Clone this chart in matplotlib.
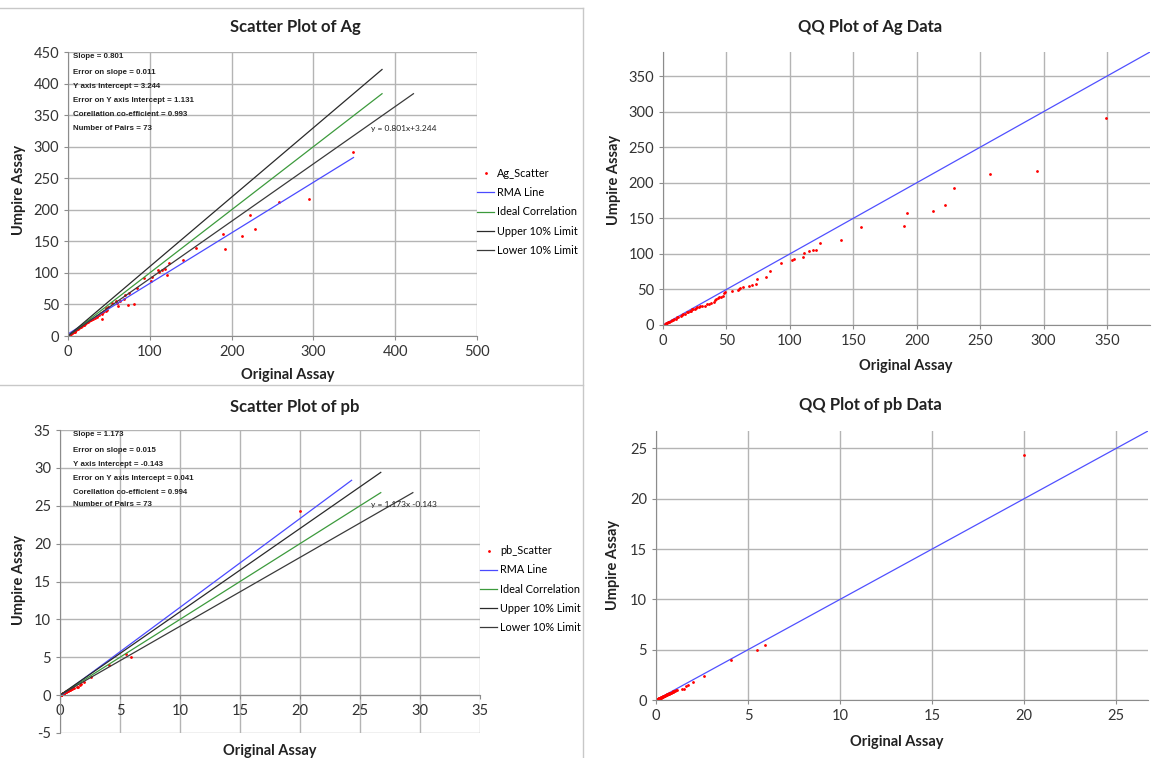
import numpy as np
import matplotlib
matplotlib.use("Agg")
import matplotlib.pyplot as plt
from matplotlib.lines import Line2D

plt.rcParams["font.family"] = ["Lato", "DejaVu Sans"]
plt.rcParams["axes.unicode_minus"] = False

# Ag assays (original vs umpire), 73 pairs
ag_original = [349, 295, 258, 229, 222, 213, 192, 190, 156, 140, 124, 121, 118,
               115, 111, 110, 103, 102, 93, 84, 81, 74, 73, 70, 68, 63, 61, 60,
               59, 54, 49, 48, 47, 46, 44, 43, 42, 41, 40, 38, 36, 35, 33, 31,
               29, 28, 27, 26, 25, 24, 23, 22, 21, 20, 19, 17, 16, 15, 14, 12,
               11, 10, 9, 8, 7, 6, 5, 4.5, 4, 3, 2.5, 2, 1.5]
ag_umpire = [291, 217, 212, 169, 192, 158, 138, 161, 139, 120, 115, 96, 106,
             104, 101, 105, 93, 87, 92, 76, 50, 68, 49, 65, 58, 55, 48, 53,
             56, 52, 46, 41, 45, 39, 40, 38, 27, 35, 37, 33, 30, 31, 29, 27,
             27, 25, 26, 23, 24, 22, 22, 20, 19, 18, 18, 16, 15, 14, 13, 11,
             11, 9, 8.5, 7, 6.5, 6, 4.5, 4, 3.8, 2.8, 2.2, 1.9, 1.3]

# pb assays, 73 pairs
pb_original = [20, 5.9, 5.5, 4.1, 2.6, 2.0, 1.75, 1.65, 1.5, 1.4, 1.15,
               1.1, 1.05, 1.0, 0.95, 0.92, 0.9, 0.85, 0.82, 0.8, 0.78,
               0.75, 0.72, 0.7, 0.68, 0.65, 0.62, 0.6, 0.58, 0.55, 0.52,
               0.5, 0.48, 0.46, 0.44, 0.42, 0.4, 0.38, 0.36, 0.35, 0.33,
               0.32, 0.3, 0.29, 0.28, 0.26, 0.25, 0.24, 0.22, 0.21, 0.2,
               0.19, 0.18, 0.17, 0.16, 0.15, 0.14, 0.13, 0.12, 0.11, 0.1,
               0.1, 0.09, 0.08, 0.08, 0.07, 0.06, 0.06, 0.05, 0.05, 0.04,
               0.04, 0.03]
pb_umpire = [24.3, 5.0, 5.45, 3.97, 2.35, 1.75, 1.5, 1.4, 1.13, 1.06, 0.96,
             0.92, 0.95, 0.85, 0.88, 0.80, 0.78, 0.76, 0.72, 0.74, 0.70,
             0.68, 0.64, 0.66, 0.60, 0.61, 0.56, 0.55, 0.52, 0.50, 0.48,
             0.46, 0.44, 0.41, 0.42, 0.38, 0.37, 0.35, 0.33, 0.32, 0.31,
             0.29, 0.28, 0.26, 0.27, 0.24, 0.23, 0.22, 0.21, 0.19, 0.19,
             0.18, 0.16, 0.16, 0.15, 0.14, 0.13, 0.12, 0.11, 0.10, 0.09,
             0.10, 0.08, 0.08, 0.07, 0.07, 0.06, 0.05, 0.05, 0.04, 0.04,
             0.03, 0.03]

ag_stats = dict(slope=0.801, slope_err=0.011, icpt=3.244, icpt_err=1.131,
                corr=0.993, n=73)
pb_stats = dict(slope=1.173, slope_err=0.015, icpt=-0.143, icpt_err=0.041,
                corr=0.994, n=73)

W, H = 1153, 758
GRID = "#b4b4b4"
AXIS = "#8c8c8c"


def fx(px):
    return px / W


def fy(py):
    return 1 - py / H


def box(l, t, r, b):
    return [fx(l), fy(b), fx(r) - fx(l), fy(t) - fy(b)]


def style(ax):
    ax.grid(True, color=GRID, lw=1.0)
    ax.set_axisbelow(True)
    for s in ["top", "right"]:
        ax.spines[s].set_visible(False)
    for s in ["left", "bottom"]:
        ax.spines[s].set_color(AXIS)
    ax.tick_params(colors=AXIS, labelcolor="#333333", labelsize=10.5, length=3)


def scatter_panel(ax, x, y, st, name):
    x = np.asarray(x); y = np.asarray(y)
    xmax = max(x.max(), y.max())
    xr = np.array([0, xmax])
    t = np.array([0, 1.1 * xmax])
    ax.plot(x, y, ".", color="red", ms=2, label=name + "_Scatter")
    ax.plot(xr, st["slope"] * xr + st["icpt"], color="#4a4aff", lw=0.9,
            label="RMA Line")
    ax.plot(t, t, color="#3c9a3c", lw=0.9, label="Ideal Correlation")
    ax.plot(t, 1.1 * t, color="#2a2a2a", lw=0.9, label="Upper 10% Limit")
    ax.plot(1.1 * t, t, color="#3a3a3a", lw=0.9, label="Lower 10% Limit")


def qq_panel(ax, x, y):
    xs = np.sort(x); ys = np.sort(y)
    lim = 1.1 * max(xs.max(), ys.max())
    ax.plot([0, lim], [0, lim], color="#5050ff", lw=0.9)
    ax.plot(xs, ys, ".", color="red", ms=2)
    ax.set_xlim(0, lim)
    ax.set_ylim(0, lim)


fig = plt.figure(figsize=(W / 100, H / 100), dpi=100)

# panel borders
fig.add_artist(Line2D([fx(583), fx(583)], [0, fy(8)], color="#c8c8c8", lw=1))
fig.add_artist(Line2D([0, fx(583)], [fy(385), fy(385)], color="#c8c8c8", lw=1))
fig.add_artist(Line2D([0, fx(583)], [fy(8), fy(8)], color="#c8c8c8", lw=1))

leg_kw = dict(loc="center left", frameon=False, fontsize=7.8, handlelength=1.6,
              handletextpad=0.25, labelspacing=0.75, borderaxespad=0,
              borderpad=0)

# --- Scatter Ag ---
ax1 = fig.add_axes(box(68, 52, 477, 336))
style(ax1)
scatter_panel(ax1, ag_original, ag_umpire, ag_stats, "Ag")
ax1.set_xlim(0, 500); ax1.set_ylim(0, 450)
ax1.set_xticks(range(0, 501, 100)); ax1.set_yticks(range(0, 451, 50))
ax1.legend(bbox_to_anchor=(1.0, 0.437), **leg_kw)

# --- QQ Ag ---
ax2 = fig.add_axes(box(663, 52, 1150, 325))
style(ax2)
qq_panel(ax2, ag_original, ag_umpire)
ax2.set_xticks(range(0, 351, 50)); ax2.set_yticks(range(0, 351, 50))

# --- Scatter pb ---
ax3 = fig.add_axes(box(60, 430, 480, 733))
style(ax3)
scatter_panel(ax3, pb_original, pb_umpire, pb_stats, "pb")
ax3.set_xlim(0, 35); ax3.set_ylim(-5, 35)
ax3.set_xticks(range(0, 36, 5)); ax3.set_yticks(range(-5, 36, 5))
ax3.spines["bottom"].set_position(("data", 0))
ax3.legend(bbox_to_anchor=(1.0, 0.475), **leg_kw)

# --- QQ pb ---
ax4 = fig.add_axes(box(656, 431, 1148, 700))
style(ax4)
qq_panel(ax4, pb_original, pb_umpire)
ax4.set_xticks(range(0, 26, 5)); ax4.set_yticks(range(0, 26, 5))

# titles and axis labels
tkw = dict(fontsize=12, fontweight="bold", ha="center", va="center", color="#222222")
fig.text(fx(295), fy(27), "Scatter Plot of Ag", **tkw)
fig.text(fx(870), fy(27), "QQ Plot of Ag Data", **tkw)
fig.text(fx(295), fy(407), "Scatter Plot of pb", **tkw)
fig.text(fx(870), fy(405), "QQ Plot of pb Data", **tkw)

lkw = dict(fontsize=10.5, fontweight="bold", ha="center", va="center", color="#222222")
fig.text(fx(19), fy(190), "Umpire Assay", rotation=90, **lkw)
fig.text(fx(288), fy(375), "Original Assay", **lkw)
fig.text(fx(614), fy(180), "Umpire Assay", rotation=90, **lkw)
fig.text(fx(906), fy(366), "Original Assay", **lkw)
fig.text(fx(19), fy(580), "Umpire Assay", rotation=90, **lkw)
fig.text(fx(270), fy(751), "Original Assay", **lkw)
fig.text(fx(613), fy(565), "Umpire Assay", rotation=90, **lkw)
fig.text(fx(897), fy(742), "Original Assay", **lkw)


def stats_text(st, ys):
    lines = ["Slope = %.3f" % st["slope"],
             "Error on slope = %.3f" % st["slope_err"],
             "Y axis Intercept = %.3f" % st["icpt"],
             "Error on Y axis Intercept = %.3f" % st["icpt_err"],
             "Corellation co-efficient = %.3f" % st["corr"],
             "Number of Pairs = %d" % st["n"]]
    for line, py in zip(lines, ys):
        fig.text(fx(73), fy(py), line, fontsize=5.7, fontweight="bold",
                 family="Liberation Sans", va="center", color="#222222")


stats_text(ag_stats, [57, 72, 86, 101, 115, 128])
stats_text(pb_stats, [434, 450, 464, 478, 492, 505])

fig.text(fx(371), fy(128), "y = %.3fx+%.3f" % (ag_stats["slope"], ag_stats["icpt"]),
         fontsize=6, va="center", color="#222222")
fig.text(fx(371), fy(505), "y = %.3fx %.3f" % (pb_stats["slope"], pb_stats["icpt"]),
         fontsize=6, va="center", color="#222222")

fig.savefig("out.png", dpi=100)
